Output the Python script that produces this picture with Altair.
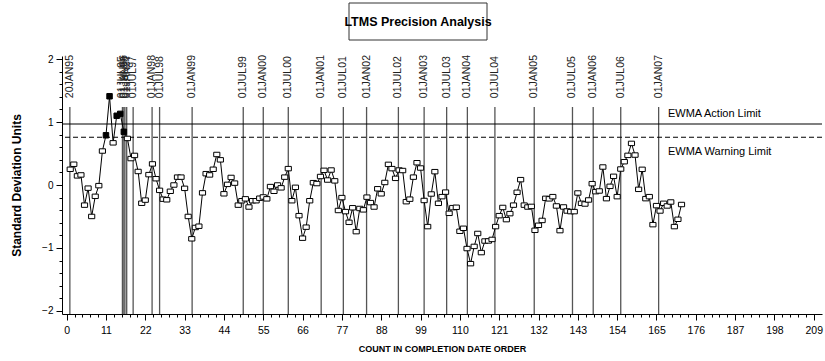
import altair as alt
import pandas as pd

# ---- data ----
counts = list(range(1, 173))
sd_values = [
    0.25, 0.33, 0.145, 0.16, -0.32, -0.05, -0.50, -0.18, -0.01, 0.54,
    0.79, 1.41, 0.67, 1.10, 1.13, 0.845, 0.74, 0.42, 0.47, 0.215,
    -0.29, -0.24, 0.165, 0.335, 0.10, -0.085, -0.225, -0.235, -0.10, 0.0,
    0.125, 0.125, -0.053, -0.50, -0.855, -0.675, -0.655, -0.125, 0.18, 0.16,
    0.25, 0.485, 0.40, -0.14, 0.01, 0.12, 0.03, -0.32, -0.25, -0.22,
    -0.35, -0.25, -0.25, -0.21, -0.19, -0.22, -0.025, -0.10, 0.0, -0.045,
    0.125, 0.26, -0.25, -0.037, -0.487, -0.845, -0.67, -0.25, 0.037, 0.023,
    0.135, 0.233, 0.079, 0.238, 0.066, -0.405, -0.20, -0.423, -0.593, -0.362,
    -0.741, -0.373, -0.395, -0.193, -0.28, -0.35, -0.06, -0.14, 0.04, 0.328,
    0.26, 0.106, 0.238, 0.23, -0.265, -0.225, 0.125, 0.354, 0.27, -0.246,
    -0.661, -0.143, 0.212, -0.291, -0.185, -0.113, -0.45, -0.36, -0.354, -0.735,
    -0.688, -1.01, -1.25, -0.976, -0.77, -1.074, -0.89, -0.889, -0.865, -0.661,
    -0.487, -0.357, -0.55, -0.455, -0.32, -0.116, 0.085, -0.32, -0.35, -0.34,
    -0.72, -0.64, -0.563, -0.212, -0.22, -0.185, -0.333, -0.725, -0.349, -0.413,
    -0.423, -0.423, -0.127, -0.291, -0.302, -0.238, 0.021, -0.106, -0.095, 0.286,
    -0.217, -0.021, 0.138, -0.185, 0.254, 0.37, 0.471, 0.661, 0.476, -0.069,
    0.249, -0.217, -0.185, -0.63, -0.328, -0.413, -0.291, -0.333, -0.27, -0.661,
    -0.545, -0.31,
]

ref_labels = ["20JAN95", "01JUL95", "01JAN96", "01JUL96", "01JAN97", "01JUL97",
              "01JAN98", "01JUL98", "01JAN99", "01JUL99", "01JAN00", "01JUL00",
              "01JAN01", "01JUL01", "01JAN02", "01JUL02", "01JAN03", "01JUL03",
              "01JAN04", "01JUL04", "01JAN05", "01JUL05", "01JAN06", "01JUL06",
              "01JAN07"]
ref_positions = [0.9, 15.6, 16.0, 16.3, 16.8, 18.6, 23.9, 26.0, 35.1, 49.4,
                 55.0, 62.0, 71.2, 77.4, 83.9, 92.8, 100.0, 106.3, 112.1, 119.8,
                 130.8, 141.5, 147.3, 155.0, 165.6]

action_limit = 0.97
warning_limit = 0.76
limit_labels = ["EWMA Action Limit", "EWMA Warning Limit"]
title_text = "LTMS Precision Analysis"

x_major_ticks = [0, 11, 22, 33, 44, 55, 66, 77, 88, 99, 110, 121, 132, 143,
                 154, 165, 176, 187, 198, 209]
y_major_ticks = [-2, -1, 0, 1, 2]

# minor ticks between the major ones
x_tick_values = [round(i * 2.2, 1) for i in range(0, 96)]
y_tick_values = [round(-2 + 0.2 * i, 1) for i in range(0, 21)]

df = pd.DataFrame({"x": counts, "y": sd_values})
df["over"] = df["y"] > warning_limit
ref_df = pd.DataFrame({"x": ref_positions, "label": ref_labels})

NARROW = "Liberation Sans Narrow, Liberation Sans, Arial"
SANS = "Liberation Sans, Arial"

xscale = alt.Scale(domain=[-1.3, 211.3], nice=False, zero=False)
yscale = alt.Scale(domain=[-2.05, 2.05], nice=False, zero=False)

x_is_major = "datum.value % 11 === 0"
y_is_major = "abs(datum.value - round(datum.value)) < 0.001"

xaxis = alt.Axis(
    title="COUNT IN COMPLETION DATE ORDER",
    values=x_tick_values,
    format="d",
    labelExpr=f"{x_is_major} ? datum.label : ''",
    tickSize={"condition": {"test": x_is_major, "value": 6}, "value": 3},
    grid=False, domainColor="black", tickColor="black", labelColor="black",
    labelFont=NARROW, labelFontSize=10.5, labelPadding=5,
    labelOverlap=False, labelFlush=False,
    titleFont=NARROW, titleFontSize=9, titleFontWeight="bold",
    titleColor="black", titlePadding=9,
)
yaxis = alt.Axis(
    title="Standard Deviation Units",
    values=y_tick_values,
    labelExpr=f"{y_is_major} ? format(datum.value, 'd') : ''",
    tickSize={"condition": {"test": y_is_major, "value": 6}, "value": 3},
    grid=False, domainColor="black", tickColor="black", labelColor="black",
    labelFont=SANS, labelFontSize=10, labelPadding=3,
    labelOverlap=False, labelFlush=False,
    titleFont=SANS, titleFontSize=12, titleFontWeight="bold",
    titleColor="black", titlePadding=18,
)

X = alt.X("x:Q", scale=xscale, axis=xaxis)
Y = alt.Y("y:Q", scale=yscale, axis=yaxis)

# vertical date reference lines
ref_rules = alt.Chart(ref_df).mark_rule(color="#555555", strokeWidth=1.3).encode(
    x=X,
    y=alt.Y(datum=1.24, scale=yscale, axis=yaxis),
    y2=alt.Y2(datum=-2.05),
)
ref_text = alt.Chart(ref_df).mark_text(
    angle=270, align="left", baseline="middle", font=SANS, fontSize=10.5,
    color="#222222",
).encode(
    x=X,
    y=alt.Y(datum=1.38, scale=yscale, axis=yaxis),
    text="label:N",
)

# EWMA limits
action_rule = alt.Chart(pd.DataFrame({"y": [action_limit]})).mark_rule(
    color="black", strokeWidth=1.1).encode(y=Y)
warning_rule = alt.Chart(pd.DataFrame({"y": [warning_limit]})).mark_rule(
    color="black", strokeWidth=1.1, strokeDash=[5, 3]).encode(y=Y)

lim_df = pd.DataFrame({"label": limit_labels, "lv": [1.13, 0.52]})
limit_text = alt.Chart(lim_df).mark_text(
    align="left", baseline="middle", font=NARROW, fontSize=11, color="black",
).encode(
    x=alt.X(datum=168.2, scale=xscale, axis=xaxis),
    y=alt.Y("lv:Q", scale=yscale, axis=yaxis),
    text="label:N",
)

# series
line = alt.Chart(df).mark_line(color="black", strokeWidth=1).encode(x=X, y=Y)
box = "M-1,-0.72L1,-0.72L1,0.72L-1,0.72Z"
open_pts = alt.Chart(df).transform_filter("!datum.over").mark_point(
    shape=box, size=38, fill="white", fillOpacity=1, stroke="black",
    strokeWidth=1, opacity=1,
).encode(x=X, y=Y)
filled_pts = alt.Chart(df).transform_filter("datum.over").mark_point(
    shape="square", size=30, fill="black", fillOpacity=1, stroke="black",
    strokeWidth=1, opacity=1,
).encode(x=X, y=Y)

# title box
tdf = pd.DataFrame({"t": [title_text]})
title_box = alt.Chart(tdf).mark_rect(
    fill="white", fillOpacity=0, stroke="#333333", strokeWidth=1,
).encode(x=alt.value(287), x2=alt.value(425), y=alt.value(-53), y2=alt.value(-16))
title_txt = alt.Chart(tdf).mark_text(
    align="center", baseline="middle", font=NARROW, fontSize=12.5,
    fontWeight="bold", color="black",
).encode(x=alt.value(356), y=alt.value(-34), text="t:N")

chart = alt.layer(
    ref_rules, ref_text, action_rule, warning_rule, limit_text,
    line, open_pts, filled_pts, title_box, title_txt,
).properties(
    width=760, height=258,
    padding={"left": 62, "top": 56, "right": 3, "bottom": 47},
    autosize=alt.AutoSizeParams(type="none"),
    background="white",
).configure_view(strokeWidth=0)

chart.save("out.html", embed_options={"renderer": "svg", "actions": False})
